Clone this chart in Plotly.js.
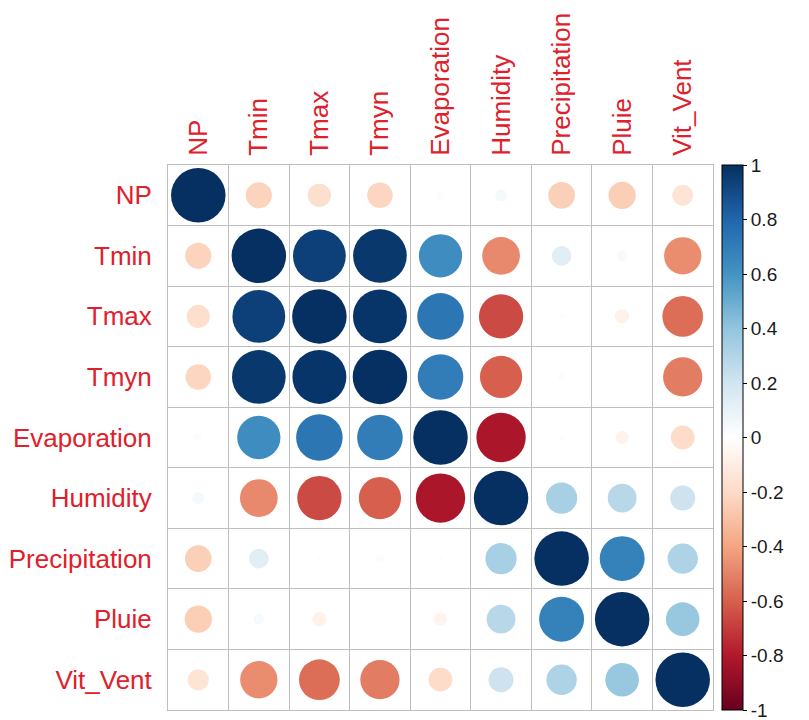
<!DOCTYPE html>
<html>
<head>
<meta charset="utf-8">
<script src="https://cdn.plot.ly/plotly-3.0.1.min.js"></script>
<style>
  html, body { margin: 0; padding: 0; background: #ffffff; }
  #chart { width: 809px; height: 720px; }
</style>
</head>
<body>
<div id="chart"></div>
<script>
// Variable names (rows top to bottom, columns left to right)
const variables = ['NP', 'Tmin', 'Tmax', 'Tmyn', 'Evaporation', 'Humidity', 'Precipitation', 'Pluie', 'Vit_Vent'];

// Correlation coefficients, one row per variable
const corrNP            = [ 1.00, -0.23, -0.18, -0.22, -0.02,  0.05, -0.24, -0.25, -0.15];
const corrTmin          = [-0.23,  1.00,  0.94,  0.97,  0.63, -0.48,  0.13,  0.04, -0.47];
const corrTmax          = [-0.18,  0.94,  1.00,  0.98,  0.73, -0.66, -0.01, -0.07, -0.56];
const corrTmyn          = [-0.22,  0.97,  0.98,  1.00,  0.70, -0.60,  0.02,  0.00, -0.52];
const corrEvaporation   = [-0.02,  0.63,  0.73,  0.70,  1.00, -0.82, -0.01, -0.06, -0.19];
const corrHumidity      = [ 0.05, -0.48, -0.66, -0.60, -0.82,  1.00,  0.33,  0.28,  0.21];
const corrPrecipitation = [-0.24,  0.13, -0.01,  0.02, -0.01,  0.33,  1.00,  0.68,  0.31];
const corrPluie         = [-0.25,  0.04, -0.07,  0.00, -0.06,  0.28,  0.68,  1.00,  0.38];
const corrVitVent       = [-0.15, -0.47, -0.56, -0.52, -0.19,  0.21,  0.31,  0.38,  1.00];

// Colour bar tick values
const barTicks = [-1, -0.8, -0.6, -0.4, -0.2, 0, 0.2, 0.4, 0.6, 0.8, 1];

const corrRows = [corrNP, corrTmin, corrTmax, corrTmyn, corrEvaporation,
                  corrHumidity, corrPrecipitation, corrPluie, corrVitVent];

// Diverging red-blue palette from -1 to +1
const rdbu = ['#67001F', '#B2182B', '#D6604D', '#F4A582', '#FDDBC7', '#FFFFFF',
              '#D1E5F0', '#92C5DE', '#4393C3', '#2166AC', '#053061'];
const colorscale = rdbu.map((c, i) => [i / (rdbu.length - 1), c]);

// Plot geometry
const W = 809, H = 720;
const margin = { l: 168, r: 96, t: 165, b: 10 };
const plotW = W - margin.l - margin.r;
const n = variables.length;
const cellPx = plotW / n;

// One circle per cell: area proportional to |r|
const xs = [], ys = [], vals = [], sizes = [];
corrRows.forEach((row, i) => {
  row.forEach((v, j) => {
    xs.push(j);
    ys.push(i);
    vals.push(v);
    sizes.push(0.9 * cellPx * Math.sqrt(Math.abs(v)));
  });
});

const labelFont = { family: 'Liberation Sans, Arial, sans-serif', size: 26, color: '#E0202A' };
const idx = variables.map((_, i) => i);

const trace = {
  type: 'scatter',
  mode: 'markers',
  x: xs,
  y: ys,
  hoverinfo: 'skip',
  cliponaxis: false,
  marker: {
    size: sizes,
    color: vals,
    cmin: -1,
    cmax: 1,
    colorscale: colorscale,
    line: { width: 0 },
    opacity: 1,
    showscale: true,
    colorbar: {
      x: (722 - margin.l) / plotW,
      xanchor: 'left',
      y: 0.5,
      yanchor: 'middle',
      len: 1,
      lenmode: 'fraction',
      thickness: 21,
      thicknessmode: 'pixels',
      xpad: 0,
      ypad: 0,
      outlinewidth: 1,
      outlinecolor: '#000000',
      tickmode: 'array',
      tickvals: barTicks,
      ticktext: barTicks.map(t => String(t)),
      ticks: 'outside',
      ticklen: 4,
      tickcolor: '#000000',
      ticklabeloverflow: 'allow',
      tickfont: { family: 'Liberation Sans, Arial, sans-serif', size: 19, color: '#1a1a1a' }
    }
  }
};

const gridColor = '#BEBEBE';

const layout = {
  width: W,
  height: H,
  margin: margin,
  paper_bgcolor: '#ffffff',
  plot_bgcolor: '#ffffff',
  showlegend: false,
  xaxis: {
    side: 'top',
    range: [-0.5, n - 0.5],
    tickmode: 'array',
    tickvals: idx,
    ticktext: variables,
    tickangle: -90,
    tickfont: labelFont,
    ticks: '',
    ticklabelstandoff: 3,
    showgrid: false,
    zeroline: false,
    showline: true,
    mirror: true,
    linecolor: gridColor,
    linewidth: 1,
    fixedrange: true,
    minor: { tickmode: 'linear', tick0: -0.5, dtick: 1, showgrid: true, gridcolor: gridColor, gridwidth: 1, ticks: '' }
  },
  yaxis: {
    range: [n - 0.5, -0.5],
    tickmode: 'array',
    tickvals: idx,
    ticktext: variables,
    tickfont: labelFont,
    ticks: '',
    ticklabelstandoff: 10,
    showgrid: false,
    zeroline: false,
    showline: true,
    mirror: true,
    linecolor: gridColor,
    linewidth: 1,
    fixedrange: true,
    minor: { tickmode: 'linear', tick0: -0.5, dtick: 1, showgrid: true, gridcolor: gridColor, gridwidth: 1, ticks: '' }
  }
};

Plotly.newPlot('chart', [trace], layout, { displayModeBar: false, staticPlot: true });
</script>
</body>
</html>
